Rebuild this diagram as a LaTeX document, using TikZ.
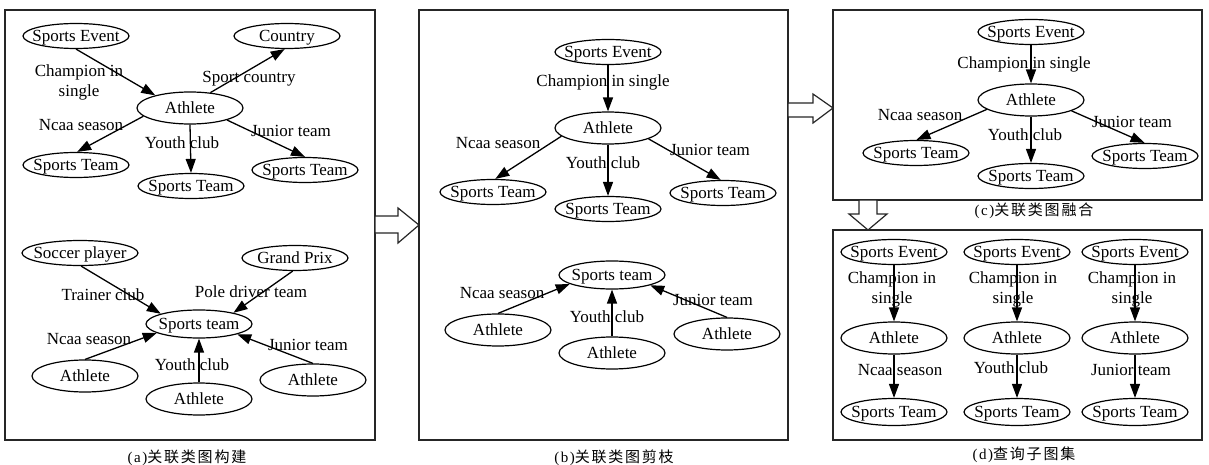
\documentclass[tikz,border=0pt]{standalone}
\usepackage{fontspec}
\setmainfont{Liberation Serif}
\newfontfamily\cjkfont[LetterSpace=12]{Noto Sans CJK SC}
\newfontfamily\capserif[LetterSpace=10]{Liberation Serif}
\usepackage{tikz}
\usetikzlibrary{arrows.meta,shapes.geometric}
\newcommand{\lblsize}{\fontsize{17}{20}\selectfont}
\newcommand{\capsize}{\fontsize{15}{17}\selectfont}
\newcommand{\ename}[1]{\makebox[0pt]{#1}}

\begin{document}
\begin{tikzpicture}[
  x=1pt, y=-1pt,
  >={Triangle[length=14pt,width=10pt]},
  every node/.style={font=\lblsize},
  ent/.style={ellipse, draw, line width=1.2pt, minimum width=106pt,
              minimum height=25pt, inner sep=0pt,
              text height=11.5pt, text depth=0pt},
  hub/.style={ent, minimum height=32pt},
  rel/.style={->, line width=1.3pt},
  lbl/.style={inner sep=0pt, text height=11.5pt, text depth=0pt},
  lbltwo/.style={inner sep=0pt, align=center},
  panel/.style={draw=black!85, line width=1.4pt},
  blk/.style={draw=black!85, line width=1.2pt, fill=white},
  captxt/.style={inner sep=0pt, font=\capsize},
]
\useasboundingbox (0,0) rectangle (1209,465);

% panels
\draw[panel] (5,10) rectangle (375,440);
\draw[panel] (419,10) rectangle (788,440);
\draw[panel] (833,10) rectangle (1202,200);
\draw[panel] (833,230) rectangle (1202,440);

% (a) upper graph
\node[ent] (se1) at (76,36) {\ename{Sports Event}};
\node[ent] (ctry) at (287,36) {\ename{Country}};
\node[hub] (ath1) at (190,108) {\ename{Athlete}};
\node[ent] (stl1) at (76,165) {\ename{Sports Team}};
\node[ent] (stm1) at (191,186) {\ename{Sports Team}};
\node[ent] (str1) at (305,170) {\ename{Sports Team}};
\draw[rel] (se1.-90) -- (ath1.160);
\draw[rel] (ath1.37) -- (ctry.-100);
\draw[rel] (ath1.190) -- (stl1.85);
\draw[rel] (ath1.south) -- (stm1.north);
\draw[rel] (ath1.-18) -- (str1.north);
\node[lbltwo] (l1) at (79,82) {Champion in\\single};
\node[lbl] (l2) at (249,77) {Sport country};
\node[lbl] (l3) at (81,125) {Ncaa season};
\node[lbl] (l4) at (182,143) {Youth club};
\node[lbl] (l5) at (291,131) {Junior team};

% (a) lower graph
\node[ent, minimum width=116pt] (soc) at (80,253) {\ename{Soccer player}};
\node[ent] (gp) at (295,258) {\ename{Grand Prix}};
\node[hub, minimum height=28pt] (sta) at (199,324) {\ename{Sports team}};
\node[hub] (athl) at (85,376) {\ename{Athlete}};
\node[hub] (athm) at (199,399) {\ename{Athlete}};
\node[hub] (athr) at (313,380) {\ename{Athlete}};
\draw[rel] (soc.-85) -- (sta.165);
\draw[rel] (gp.-100) -- (sta.18);
\draw[rel] (athl.north) -- (sta.192);
\draw[rel] (athm.north) -- (sta.south);
\draw[rel] (athr.north) -- (sta.-15);
\node[lbl] (l6) at (103,295) {Trainer club};
\node[lbl] (l7) at (251,292) {Pole driver team};
\node[lbl] (l8) at (89,339) {Ncaa season};
\node[lbl] (l9) at (192,365) {Youth club};
\node[lbl] (l10) at (308,345) {Junior team};
\node[captxt] (capa) at (187,458) {{\capserif (a)}{\cjkfont 关联类图构建}};

% (b) upper graph
\node[ent] (se2) at (608,52) {\ename{Sports Event}};
\node[hub] (ath2) at (608,128) {\ename{Athlete}};
\node[ent] (stl2) at (493,192) {\ename{Sports Team}};
\node[ent] (stm2) at (608,209) {\ename{Sports Team}};
\node[ent] (str2) at (723,193) {\ename{Sports Team}};
\draw[rel] (se2.south) -- (ath2.north);
\draw[rel] (ath2.190) -- (stl2.80);
\draw[rel] (ath2.south) -- (stm2.north);
\draw[rel] (ath2.-15) -- (str2.100);
\node[lbl] (l11) at (603,81) {Champion in single};
\node[lbl] (l12) at (498,143) {Ncaa season};
\node[lbl] (l13) at (603,163) {Youth club};
\node[lbl] (l14) at (710,150) {Junior team};

% (b) lower graph
\node[hub, minimum height=28pt] (st2) at (612,275) {\ename{Sports team}};
\node[hub] (athl2) at (498,330) {\ename{Athlete}};
\node[hub] (athm2) at (612,353) {\ename{Athlete}};
\node[hub] (athr2) at (727,334) {\ename{Athlete}};
\draw[rel] (athl2.north) -- (st2.192);
\draw[rel] (athm2.north) -- (st2.south);
\draw[rel] (athr2.north) -- (st2.-15);
\node[lbl] (l15) at (502,293) {Ncaa season};
\node[lbl] (l16) at (607,317) {Youth club};
\node[lbl] (l17) at (713,300) {Junior team};
\node[captxt] (capb) at (614,458) {{\capserif (b)}{\cjkfont 关联类图剪枝}};

% (c) merged graph
\node[ent] (se3) at (1031,32) {\ename{Sports Event}};
\node[hub] (ath3) at (1031,100) {\ename{Athlete}};
\node[ent] (stl3) at (916,153) {\ename{Sports Team}};
\node[ent] (stm3) at (1031,176) {\ename{Sports Team}};
\node[ent] (str3) at (1145,156) {\ename{Sports Team}};
\draw[rel] (se3.south) -- (ath3.north);
\draw[rel] (ath3.192) -- (stl3.88);
\draw[rel] (ath3.south) -- (stm3.north);
\draw[rel] (ath3.-15) -- (str3.92);
\node[lbl] (l18) at (1024,63) {Champion in single};
\node[lbl] (l19) at (920,115) {Ncaa season};
\node[lbl] (l20) at (1025,135) {Youth club};
\node[lbl] (l21) at (1132,122) {Junior team};
\node[captxt] (capc) at (1034,211) {{\capserif (c)}{\cjkfont 关联类图融合}};

% (d) query subgraphs
\node[ent] (se4) at (894,252) {\ename{Sports Event}};
\node[hub] (ath4) at (894,338) {\ename{Athlete}};
\node[ent, minimum height=27pt] (st4) at (894,412) {\ename{Sports Team}};
\node[ent] (se5) at (1017,252) {\ename{Sports Event}};
\node[hub] (ath5) at (1017,338) {\ename{Athlete}};
\node[ent, minimum height=27pt] (st5) at (1017,412) {\ename{Sports Team}};
\node[ent] (se6) at (1135,252) {\ename{Sports Event}};
\node[hub] (ath6) at (1135,338) {\ename{Athlete}};
\node[ent, minimum height=27pt] (st6) at (1135,412) {\ename{Sports Team}};
\draw[rel] (se4.south) -- (ath4.north);
\draw[rel] (ath4.south) -- (st4.north);
\draw[rel] (se5.south) -- (ath5.north);
\draw[rel] (ath5.south) -- (st5.north);
\draw[rel] (se6.south) -- (ath6.north);
\draw[rel] (ath6.south) -- (st6.north);
\node[lbltwo] (l22) at (892,289) {Champion in\\single};
\node[lbltwo] (l23) at (1013,289) {Champion in\\single};
\node[lbltwo] (l24) at (1132,289) {Champion in\\single};
\node[lbl] (l25) at (900,370) {Ncaa season};
\node[lbl] (l26) at (1011,368) {Youth club};
\node[lbl] (l27) at (1131,370) {Junior team};
\node[captxt] (capd) at (1024,455) {{\capserif (d)}{\cjkfont 查询子图集}};

% block arrows between panels
\draw[blk] (375,216) -- (398,216) -- (398,208) -- (419,225)
  -- (398,243) -- (398,233) -- (375,233) -- cycle;
\draw[blk] (788,103) -- (813,103) -- (813,94) -- (833,108)
  -- (813,123) -- (813,117) -- (788,117) -- cycle;
\draw[blk] (859,200) -- (859,214) -- (849,214) -- (868,230)
  -- (887,214) -- (877,214) -- (877,200) -- cycle;
\end{tikzpicture}
\end{document}
